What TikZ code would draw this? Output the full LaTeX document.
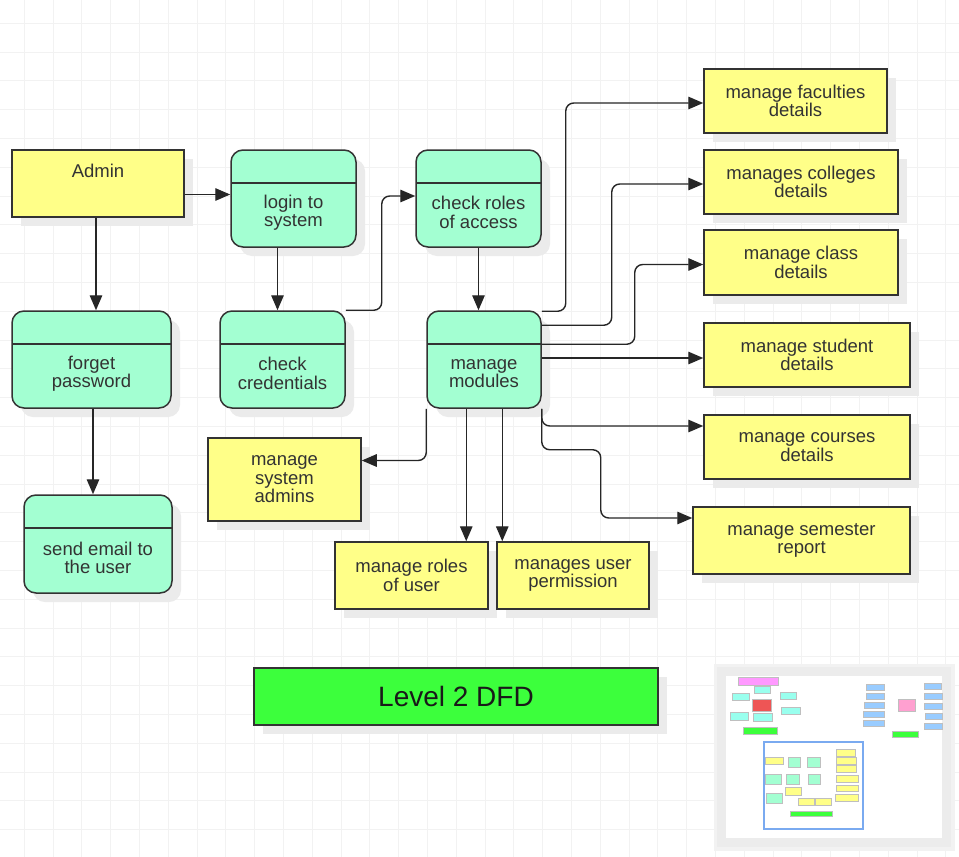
\documentclass[tikz,border=0pt]{standalone}
\usepackage{fontspec}
\setmainfont{Liberation Sans}
\usetikzlibrary{arrows.meta,shadows}
\definecolor{dfdyellow}{HTML}{FFFF88}
\definecolor{dfdmint}{HTML}{A3FFD2}
\definecolor{dfdgreen}{HTML}{3CFF3C}
\definecolor{dfdline}{HTML}{333333}
\definecolor{dfdtext}{HTML}{333333}
\definecolor{dfdshadow}{HTML}{EBEBEB}
\definecolor{dfdgrid}{HTML}{F2F2F2}
\definecolor{navframe}{HTML}{ECECEC}
\definecolor{navblue}{HTML}{7AAAF0}
\definecolor{navpink}{HTML}{FF99FF}
\definecolor{navcyan}{HTML}{99FFEE}
\definecolor{navred}{HTML}{EE5555}
\definecolor{navsky}{HTML}{99CCFF}
\definecolor{navrose}{HTML}{FFA0D0}
\newcommand\dfdfont{\fontsize{18.5}{18.5}\selectfont}
\tikzset{
  dfd/.style={draw=dfdline, line width=1.5pt, inner sep=0pt, text=dfdtext, font=\dfdfont, align=center,
    drop shadow={shadow xshift=9pt, shadow yshift=-9pt, fill=dfdshadow, opacity=1}},
  entity/.style={dfd, fill=dfdyellow},
  proc/.style={dfd, fill=dfdmint, rounded corners=12pt,
    path picture={\draw[dfdline, line width=1.5pt] ([yshift=-33pt]path picture bounding box.north west) -- ([yshift=-33pt]path picture bounding box.north east);}},
  ptext/.style={text=dfdtext, font=\dfdfont, align=center, inner sep=0pt},
  flow/.style={draw=black!85, line width=1.4pt, rounded corners=8pt, -{Triangle[length=15pt,width=12.5pt]}},
  gridline/.style={draw=dfdgrid, line width=1pt},
  mini/.style={draw=black!25, line width=0.4pt}
}
\begin{document}
\begin{tikzpicture}[x=1pt,y=-1pt]
    \useasboundingbox (0,0) rectangle (959,857);
    \fill[white] (0,0) rectangle (959,857);
    \foreach \i in {0,...,32}
        \draw[gridline] ({24.3+28.8*\i},0) -- ({24.3+28.8*\i},857);
    \foreach \i in {0,...,29}
        \draw[gridline] (0,{23.3+28.8*\i}) -- (959,{23.3+28.8*\i});

    \node[entity, minimum width=172pt, minimum height=67pt] (admin) at (98,183.5) {};
    \node[ptext] (admin-t) at (98,171) {Admin};
    \node[proc, minimum width=125pt, minimum height=97pt] (login) at (293.5,198.5) {};
    \node[ptext] (login-t) at ([yshift=-14pt]login.center) {login to\\system};
    \node[proc, minimum width=125pt, minimum height=97pt] (roles) at (478.5,198.5) {};
    \node[ptext] (roles-t) at ([yshift=-14pt]roles.center) {check roles\\of access};
    \node[proc, minimum width=159pt, minimum height=97pt] (forget) at (91.5,359.5) {};
    \node[ptext] (forget-t) at ([yshift=-14pt]forget.center) {forget\\password};
    \node[proc, minimum width=125pt, minimum height=97pt] (cred) at (282.5,359.5) {};
    \node[ptext] (cred-t) at ([yshift=-14pt]cred.center) {check\\credentials};
    \node[proc, minimum width=114pt, minimum height=97pt] (modules) at (484,359.5) {};
    \node[ptext] (modules-t) at ([yshift=-14pt]modules.center) {manage\\modules};
    \node[proc, minimum width=148pt, minimum height=98pt] (email) at (98,544) {};
    \node[ptext] (email-t) at ([yshift=-14pt]email.center) {send email to\\the user};

    \node[entity, minimum width=183pt, minimum height=64pt] (fac) at (795.5,101) {manage faculties\\details};
    \node[entity, minimum width=194pt, minimum height=64pt] (col) at (801,182) {manages colleges\\details};
    \node[entity, minimum width=194pt, minimum height=65pt] (cls) at (801,262.5) {manage class\\details};
    \node[entity, minimum width=206pt, minimum height=64pt] (stu) at (807,355) {manage student\\details};
    \node[entity, minimum width=206pt, minimum height=64pt] (crs) at (807,447) {manage courses\\details};
    \node[entity, minimum width=217pt, minimum height=67pt] (sem) at (801.5,540.5) {manage semester\\report};
    \node[entity, minimum width=153pt, minimum height=83pt] (sysadm) at (284.5,479.5) {manage\\system\\admins};
    \node[entity, minimum width=153pt, minimum height=67pt] (uroles) at (411.5,575.5) {manage roles\\of user};
    \node[entity, minimum width=152pt, minimum height=67pt] (perm) at (573,575.5) {manages user\\permission};
    \node[dfd, fill=dfdgreen, text=black!90, font=\fontsize{28}{30}\selectfont,
        minimum width=404pt, minimum height=57pt] (title) at (456,696.5) {Level 2 DFD};

    \coordinate (login-in) at ([yshift=4pt]login.west);
    \coordinate (roles-in) at ([yshift=2.5pt]roles.west);
    \coordinate (crs-in) at ([yshift=21pt]crs.west);
    \coordinate (sem-in) at ([yshift=22.5pt]sem.west);
    \coordinate (sysadm-in) at ([yshift=19pt]sysadm.east);
    \draw[flow] (admin.east |- login-in) -- (login-in);
    \draw[flow] ([xshift=-2pt]admin.south) -- ([xshift=-2pt]admin.south |- forget.north);
    \draw[flow] ([xshift=-16pt]login.south) -- ([xshift=-16pt]login.south |- cred.north);
    \draw[flow] (cred.north east) -- ++(36,0) |- (roles-in);
    \draw[flow] (roles.south) -- (roles.south |- modules.north);
    \draw[flow] ([xshift=1.5pt]forget.south) -- ([xshift=1.5pt]forget.south |- email.north);
    \draw[flow] ([yshift=-1pt]modules.north east) -- ++(24,0) |- ([yshift=-2pt]fac.west);
    \draw[flow] ([yshift=-15pt]modules.north east) -- ++(70,0) |- ([yshift=-2pt]col.west);
    \draw[flow] ([yshift=-34pt]modules.north east) -- ++(93,0) |- ([yshift=-2pt]cls.west);
    \draw[flow] ([yshift=1.5pt]modules.east) -- ([yshift=1.5pt]modules.east -| stu.west);
    \draw[flow] (modules.south east) |- (crs-in);
    \draw[flow] (modules.south east) |- ++(59,41) |- (sem-in);
    \draw[flow] (modules.south west) |- (sysadm-in);
    \draw[flow] ([xshift=40pt]modules.south west) -- ([xshift=40pt]modules.south west |- uroles.north);
    \draw[flow] ([xshift=76pt]modules.south west) -- ([xshift=76pt]modules.south west |- perm.north);

    \fill[black!5] (714,664) rectangle (955,851);
    \fill[navframe] (717,667) rectangle (951,847);
    \fill[white] (726,676) rectangle (942,838);
    \foreach \xa/\ya/\xb/\yb/\col in {738/677/778/685/navpink, 754/686/770/693/navcyan,
        732/693/749/700/navcyan, 780/692/796/699/navcyan, 730/712/748/720/navcyan,
        753/713/772/721/navcyan, 781/707/800/714/navcyan, 752/699/771/711/navred,
        743/727/777/734/dfdgreen, 892/731/918/737/dfdgreen, 866/684/884/690/navsky,
        866/693/884/699/navsky, 864/702/884/708/navsky, 863/711/884/717/navsky,
        863/720/884/726/navsky, 924/683/941/689/navsky, 924/693/942/699/navsky,
        924/703/942/709/navsky, 925/713/942/719/navsky, 924/723/942/729/navsky,
        898/699/915/711/navrose}
        \draw[mini, fill=\col] (\xa,\ya) rectangle (\xb,\yb);
    \begin{scope}[shift={(764,742)}, scale=0.103]
        \foreach \xa/\ya/\xb/\yb/\col in {12/150/184/217/dfdyellow, 231/150/356/247/dfdmint,
            416/150/541/247/dfdmint, 12/311/171/408/dfdmint, 220/311/345/408/dfdmint,
            427/311/541/408/dfdmint, 24/495/172/593/dfdmint, 704/69/887/133/dfdyellow,
            704/150/898/214/dfdyellow, 704/230/898/295/dfdyellow, 704/323/910/387/dfdyellow,
            704/415/910/479/dfdyellow, 693/507/910/574/dfdyellow, 208/438/361/521/dfdyellow,
            335/542/488/609/dfdyellow, 497/542/649/609/dfdyellow, 254/668/658/725/dfdgreen}
            \draw[mini, fill=\col] (\xa,\ya) rectangle (\xb,\yb);
    \end{scope}
    \draw[navblue, line width=2pt] (764,742) rectangle (863,829);
\end{tikzpicture}
\end{document}
